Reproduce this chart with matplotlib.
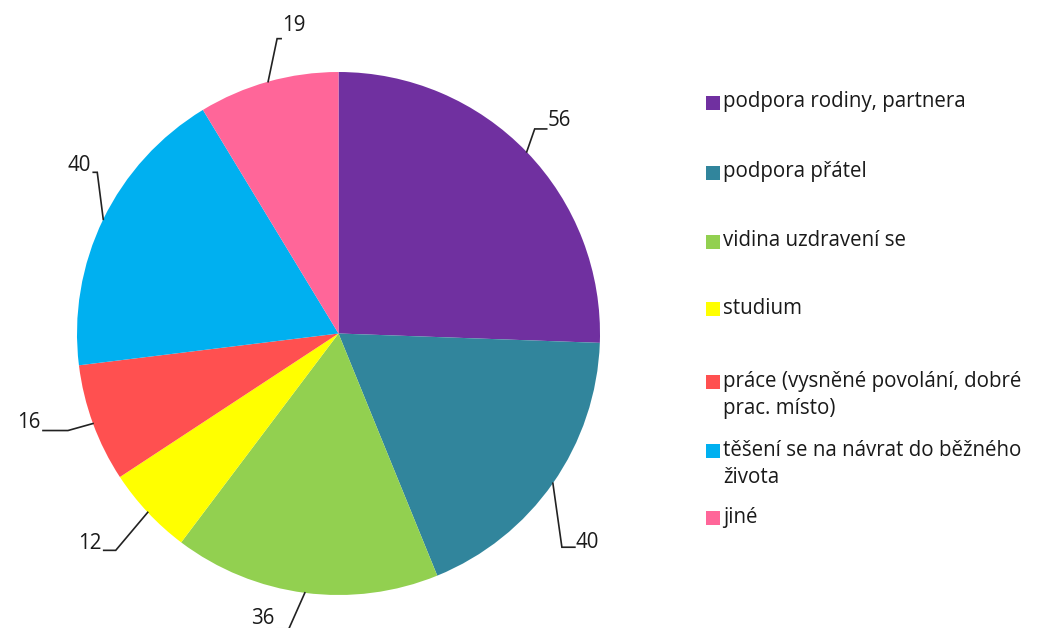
import numpy as np
import matplotlib
matplotlib.use("Agg")
import matplotlib.pyplot as plt
from matplotlib.patches import Rectangle

# Data
categories = [
    "podpora rodiny, partnera",
    "podpora přátel",
    "vidina uzdravení se",
    "studium",
    "práce (vysněné povolání, dobré\nprac. místo)",
    "těšení se na návrat do běžného\nživota",
    "jiné",
]
values = [56, 40, 36, 12, 16, 40, 19]
colors = ["#7030A0", "#31859C", "#92D050", "#FFFF00", "#FF5050", "#00B0F0", "#FF6699"]

W, H = 1046, 628
FONT = "Open Sans"
TXT = "#1a1a1a"
FS = 14.8

fig = plt.figure(figsize=(W / 100, H / 100), dpi=100)
ax = fig.add_axes([0, 0, 1, 1])


def sy(y):
    """screen-style y (from top) to axes y"""
    return H - y


cx, cy, r = 338.5, 333.5, 261.5
wedges, _ = ax.pie(values, colors=colors, startangle=90, counterclock=False,
                   radius=r, center=(cx, sy(cy)),
                   wedgeprops=dict(linewidth=0))
ax.set_xlim(0, W)
ax.set_ylim(0, H)
ax.set_aspect("equal")
ax.axis("off")

# Leader lines: (dx, dy) from the rim point to the elbow, then horizontal run
elbow = [(8, -23), (9, 64), (-16, 36), (-32, 38), (-25, 7), (-6, -47), (9, -43)]
run = [12, 13, -12, -12, -25, -4, 4]
text_dy = [-8, -5, -10, -7, -8, -7, -13]

for w, v, (dx, dy), h, tdy in zip(wedges, values, elbow, run, text_dy):
    ang = np.deg2rad((w.theta1 + w.theta2) / 2)
    ex = cx + r * np.cos(ang)
    ey = cy - r * np.sin(ang)
    bx, by = ex + dx, ey + dy
    fx = bx + h
    ax.plot([ex, bx, fx], [sy(ey), sy(by), sy(by)], color="#222222", lw=1.2,
            solid_joinstyle="miter")
    ha = "left" if h > 0 else "right"
    ax.text(fx + (1 if h > 0 else -2), sy(by + tdy), str(v), ha=ha, va="center",
            fontsize=FS, family=FONT, color=TXT)

# Legend
leg_y = [102, 172, 241, 308, 381, 450, 517]
line_gap = 27.5
sq = 14
for lab, col, y in zip(categories, colors, leg_y):
    ax.add_patch(Rectangle((706, sy(y) - sq / 2 - 1), sq, sq, facecolor=col, edgecolor="none"))
    for i, part in enumerate(lab.split("\n")):
        ax.text(723, sy(y + i * line_gap), part, ha="left", va="center",
                fontsize=FS, family=FONT, color=TXT)

fig.savefig("out.png", dpi=100, facecolor="white")
